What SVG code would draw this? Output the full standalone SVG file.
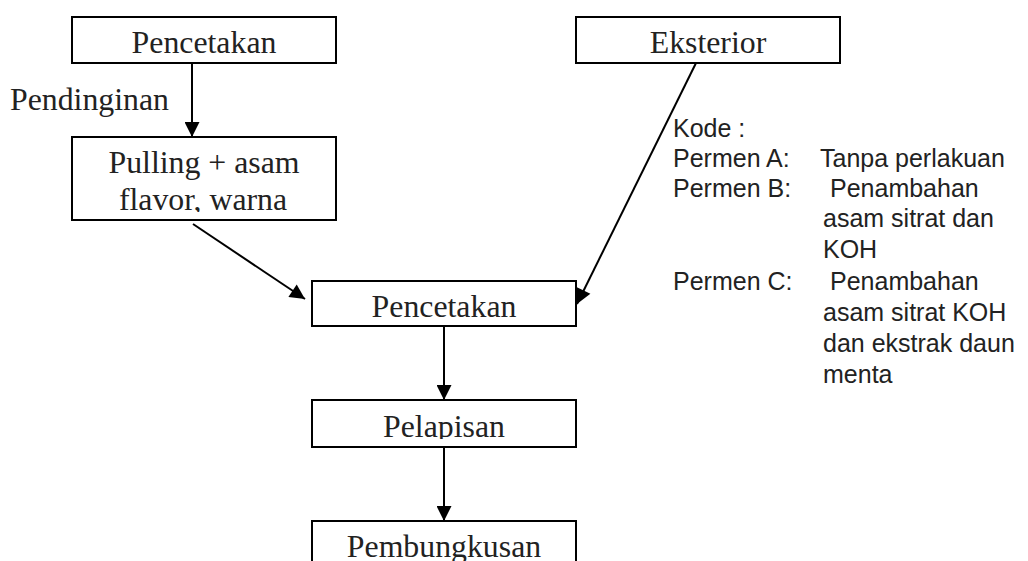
<svg xmlns="http://www.w3.org/2000/svg" width="1028" height="561" viewBox="0 0 1028 561">
<style>
.box{fill:#fff;stroke:#000;stroke-width:2}
.st{font-family:"Liberation Serif","Times New Roman",serif;font-size:31.8px;fill:#222;text-anchor:middle}
.lbl{font-family:"Liberation Serif","Times New Roman",serif;font-size:31.8px;fill:#222}
.leg{font-family:"Liberation Sans",Arial,sans-serif;font-size:25px;fill:#222}
.con{stroke:#000;stroke-width:2;fill:none;marker-end:url(#ah)}
</style>
<defs>
<marker id="ah" viewBox="0 0 10 10" refX="10" refY="5" markerWidth="16" markerHeight="15" markerUnits="userSpaceOnUse" orient="auto">
<path d="M0,0 L10,5 L0,10 z" fill="#000"/>
</marker>
<clipPath id="c2"><rect x="72" y="137" width="264" height="75"/></clipPath>
<clipPath id="c4"><rect x="312" y="400" width="264" height="39"/></clipPath>
</defs>
<rect width="1028" height="561" fill="#fff"/>
<g id="connectors">
<line class="con" x1="192" y1="63" x2="192" y2="137"/>
<line class="con" x1="193" y1="224" x2="305" y2="299"/>
<line class="con" x1="696" y1="63" x2="577" y2="304"/>
<line class="con" x1="444" y1="326" x2="444" y2="400"/>
<line class="con" x1="444" y1="447" x2="444" y2="521"/>
</g>
<g id="n-pencetakan1">
<rect class="box" x="72" y="17" width="264" height="46"/>
<text class="st" x="204" y="53">Pencetakan</text>
</g>
<g id="lbl-pendinginan">
<text class="lbl" x="10" y="110">Pendinginan</text>
</g>
<g id="n-pulling">
<rect class="box" x="72" y="137" width="264" height="83"/>
<g clip-path="url(#c2)">
<text class="st" x="204" y="173">Pulling + asam</text>
<text class="st" x="203" y="210">flavor, warna</text>
</g>
</g>
<g id="n-eksterior">
<rect class="box" x="576" y="17" width="264" height="46"/>
<text class="st" x="708" y="53">Eksterior</text>
</g>
<g id="n-pencetakan2">
<rect class="box" x="312" y="281" width="264" height="45"/>
<text class="st" x="444" y="317">Pencetakan</text>
</g>
<g id="n-pelapisan">
<rect class="box" x="312" y="400" width="264" height="47"/>
<g clip-path="url(#c4)">
<text class="st" x="444" y="437">Pelapisan</text>
</g>
</g>
<g id="n-pembungkusan">
<rect class="box" x="312" y="521" width="264" height="60"/>
<text class="st" x="444" y="557">Pembungkusan</text>
</g>
<g id="legend">
<text class="leg" x="673" y="137">Kode :</text>
<text class="leg" x="673" y="167">Permen A:</text>
<text class="leg" x="820" y="167">Tanpa perlakuan</text>
<text class="leg" x="673" y="197">Permen B:</text>
<text class="leg" x="830" y="197">Penambahan</text>
<text class="leg" x="823" y="227">asam sitrat dan</text>
<text class="leg" x="823" y="258">KOH</text>
<text class="leg" x="673" y="290">Permen C:</text>
<text class="leg" x="830" y="290">Penambahan</text>
<text class="leg" x="823" y="321">asam sitrat KOH</text>
<text class="leg" x="823" y="352">dan ekstrak daun</text>
<text class="leg" x="823" y="383">menta</text>
</g>
</svg>
